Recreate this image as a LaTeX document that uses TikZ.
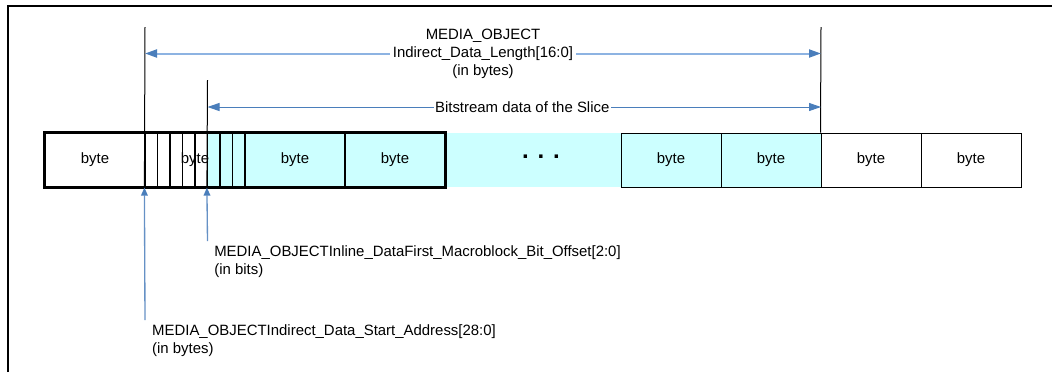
\documentclass[tikz,border=0pt]{standalone}
\usepackage{fontspec}
\setmainfont{Liberation Sans}
\usepackage{xcolor}
\usetikzlibrary{arrows.meta,positioning,calc}
\definecolor{slicecyan}{HTML}{CCFFFF}
\definecolor{dimblue}{HTML}{8DB3E2}
\definecolor{arrblue}{HTML}{4A7EBB}

\begin{document}
\begin{tikzpicture}[x=0.75pt, y=-0.75pt,
    font=\fontsize{11.2}{13.5}\selectfont,
    bytebox/.style={draw, minimum width=75pt, minimum height=40.5pt, inner sep=0pt},
    bitbox/.style={draw, line width=0.9pt, minimum width=9.375pt, minimum height=40.5pt, inner sep=0pt},
    note/.style={align=left, inner sep=0pt},
    dimwide/.style={dimblue, line width=1.5pt,
        {Triangle[length=9pt, width=6pt, color=arrblue]}-{Triangle[length=9pt, width=6pt, color=arrblue]}},
    dimthin/.style={arrblue, line width=0.75pt,
        {Triangle[length=9pt, width=6pt]}-{Triangle[length=9pt, width=6pt]}},
    ptr/.style={arrblue!85, line width=1pt, -{Triangle[length=6pt, width=5pt, color=arrblue]}}]
    \useasboundingbox (0,0) rectangle (1052,372);

    % Frame
    \draw[line width=1.5pt] (8,372) -- (8,6) -- (1052,6);

    % Cyan slice area
    \fill[slicecyan] (207.5,133) rectangle (821,187);

    % Bytes, left part
    \node[bytebox, line width=1.5pt] (b1) at (95,160) {byte};
    \foreach \i in {0,...,4}
        \node[bitbox] (bit\i) at ({151.25+12.5*\i},160) {};
    \foreach \i in {5,...,7}
        \node[bitbox, fill=slicecyan] (bit\i) at ({151.25+12.5*\i},160) {};
    \node (b2) at (195,160) {byte};
    \node[bytebox, line width=1.5pt, fill=slicecyan] (b3) at (295,160) {byte};
    \node[bytebox, line width=1.5pt, fill=slicecyan] (b4) at (395,160) {byte};
    \draw[line width=1.5pt] (b1.north west) rectangle (b4.south east);

    % Gap
    \node (dots) at (541,157) {\fontsize{18}{18}\selectfont\bfseries . . .};

    % Bytes, right part
    \node[bytebox, line width=0.75pt, fill=slicecyan] (b5) at (671,160) {byte};
    \node[bytebox, line width=0.75pt, fill=slicecyan] (b6) at (771,160) {byte};
    \node[bytebox, line width=0.75pt] (b7) at (871,160) {byte};
    \node[bytebox, line width=0.75pt] (b8) at (971,160) {byte};

    % Markers
    \coordinate (lenTop) at (145,27);
    \coordinate (offTop) at (207.5,80);
    \coordinate (endTop) at (821,27);
    \draw[line width=0.75pt] (lenTop) -- (bit0.south west);
    \draw[line width=0.75pt] (offTop) -- (bit5.south west);
    \draw[line width=0.75pt] (endTop) -- (b7.north west);

    % Lengths
    \coordinate (lenL) at (145,53.5);
    \coordinate (lenR) at (821,53.5);
    \draw[dimwide] (lenL) -- (lenR);
    \node[align=center, fill=white, inner sep=2pt] (lenlbl) at ($(lenL)!0.5!(lenR)$)
        {MEDIA\_OBJECT\\Indirect\_Data\_Length[16:0]\\(in bytes)};

    \coordinate (sliceL) at (207.5,107);
    \coordinate (sliceR) at (821,107);
    \draw[dimthin] (sliceL) -- (sliceR)
        node[pos=0.513, fill=white, text=black, inner sep=1pt] (slicelbl) {Bitstream data of the Slice};

    % Pointers from below
    \coordinate (offFoot) at (207.5,241);
    \coordinate (startFoot) at (145,320);
    \draw[ptr] (offFoot) -- (bit5.south west);
    \draw[ptr] (startFoot) -- (bit0.south west);

    \node[note, below right=3pt and 4.9pt of offFoot] (offlbl)
        {MEDIA\_OBJECTInline\_DataFirst\_Macroblock\_Bit\_Offset[2:0]\\(in bits)};
    \node[note, below right=3.2pt and 5.2pt of startFoot] (startlbl)
        {MEDIA\_OBJECTIndirect\_Data\_Start\_Address[28:0]\\(in bytes)};
\end{tikzpicture}
\end{document}
